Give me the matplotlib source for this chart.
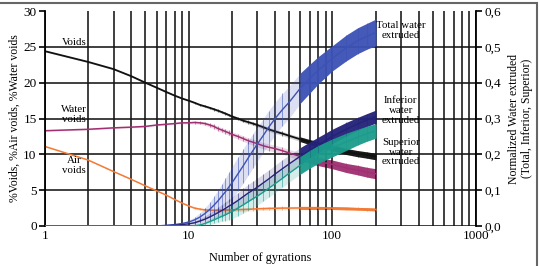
import numpy as np
import matplotlib
matplotlib.use('Agg')
import matplotlib.pyplot as plt
from matplotlib.patches import Rectangle
from matplotlib.ticker import FixedLocator, NullFormatter

plt.rcParams['font.family'] = ['Liberation Serif', 'DejaVu Serif']

gyr = [1, 2, 3, 4, 5, 6, 7, 8, 9, 10, 11, 12, 13, 14, 15, 16, 17, 18, 19, 20,
       22, 24, 26, 28, 30, 33, 36, 40, 45, 50, 60, 70, 80, 100, 125, 150, 175, 200]

# left axis (%)
voids = [24.4, 22.9, 21.9, 20.9, 20.0, 19.3, 18.7, 18.2, 17.8, 17.5, 17.2, 16.9, 16.7, 16.5,
         16.3, 16.1, 15.9, 15.7, 15.5, 15.3, 15.0, 14.7, 14.5, 14.3, 14.1, 13.8, 13.5, 13.2,
         12.9, 12.6, 12.1, 11.7, 11.4, 10.9, 10.4, 10.1, 9.9, 9.7]
voids_sd = [0.1, 0.1, 0.1, 0.1, 0.1, 0.1, 0.1, 0.1, 0.1, 0.12, 0.13, 0.15, 0.16, 0.17,
            0.18, 0.18, 0.19, 0.19, 0.2, 0.2, 0.22, 0.23, 0.24, 0.25, 0.26, 0.27, 0.28, 0.29,
            0.3, 0.3, 0.33, 0.35, 0.37, 0.4, 0.42, 0.43, 0.44, 0.45]
water_voids = [13.3, 13.5, 13.7, 13.8, 13.9, 14.1, 14.2, 14.3, 14.4, 14.4, 14.45, 14.4, 14.3, 14.1,
               13.9, 13.6, 13.4, 13.2, 13.0, 12.8, 12.5, 12.2, 11.9, 11.7, 11.5, 11.2, 11.0, 10.8,
               10.5, 10.2, 9.7, 9.3, 9.0, 8.6, 8.1, 7.8, 7.5, 7.3]
water_sd = [0.1, 0.1, 0.1, 0.1, 0.1, 0.1, 0.1, 0.1, 0.12, 0.15, 0.18, 0.2, 0.25, 0.28,
            0.3, 0.32, 0.33, 0.34, 0.35, 0.35, 0.37, 0.39, 0.4, 0.42, 0.43, 0.45, 0.47, 0.48,
            0.5, 0.5, 0.53, 0.55, 0.57, 0.6, 0.63, 0.66, 0.68, 0.7]
air_voids = [11.1, 9.2, 7.6, 6.5, 5.6, 4.9, 4.3, 3.7, 3.2, 2.8, 2.5, 2.35, 2.25, 2.2,
             2.2, 2.2, 2.2, 2.22, 2.24, 2.25, 2.28, 2.3, 2.33, 2.36, 2.4, 2.42, 2.45, 2.47,
             2.5, 2.5, 2.52, 2.52, 2.52, 2.5, 2.45, 2.4, 2.35, 2.3]
air_sd = [0.05, 0.05, 0.05, 0.05, 0.05, 0.05, 0.05, 0.05, 0.07, 0.1, 0.12, 0.15, 0.2, 0.22,
          0.25, 0.25, 0.25, 0.25, 0.25, 0.25, 0.25, 0.25, 0.25, 0.25, 0.25, 0.25, 0.25, 0.25,
          0.25, 0.25, 0.22, 0.22, 0.22, 0.2, 0.2, 0.2, 0.2, 0.2]

# right axis (normalized water extruded)
total = [0, 0, 0, 0, 0, 0, 0.002, 0.004, 0.007, 0.011, 0.017, 0.025, 0.035, 0.046,
         0.058, 0.07, 0.083, 0.095, 0.108, 0.12, 0.145, 0.168, 0.19, 0.21, 0.228, 0.252, 0.275, 0.3,
         0.325, 0.345, 0.385, 0.412, 0.435, 0.468, 0.497, 0.517, 0.53, 0.54]
total_sd = [0, 0, 0, 0, 0, 0, 0, 0, 0.002, 0.005, 0.008, 0.012, 0.016, 0.02,
            0.025, 0.03, 0.034, 0.038, 0.042, 0.045, 0.047, 0.048, 0.048, 0.048, 0.048, 0.047, 0.047, 0.046,
            0.045, 0.045, 0.042, 0.04, 0.038, 0.035, 0.036, 0.036, 0.036, 0.037]
inferior = [0, 0, 0, 0, 0, 0, 0.001, 0.002, 0.004, 0.006, 0.009, 0.014, 0.019, 0.025,
            0.031, 0.037, 0.043, 0.049, 0.055, 0.06, 0.071, 0.082, 0.092, 0.1, 0.108, 0.12, 0.131, 0.145,
            0.16, 0.173, 0.195, 0.212, 0.226, 0.25, 0.27, 0.285, 0.296, 0.305]
inferior_sd = [0, 0, 0, 0, 0, 0, 0, 0, 0.001, 0.003, 0.005, 0.007, 0.009, 0.011,
               0.013, 0.015, 0.017, 0.018, 0.019, 0.02, 0.022, 0.023, 0.024, 0.025, 0.025, 0.025, 0.025, 0.025,
               0.025, 0.025, 0.024, 0.023, 0.022, 0.02, 0.019, 0.018, 0.018, 0.018]
superior = [0, 0, 0, 0, 0, 0, 0, 0, 0, 0, 0.001, 0.003, 0.007, 0.012,
            0.017, 0.022, 0.027, 0.031, 0.036, 0.04, 0.05, 0.059, 0.068, 0.076, 0.083, 0.094, 0.105, 0.118,
            0.133, 0.147, 0.17, 0.187, 0.2, 0.218, 0.235, 0.248, 0.258, 0.265]
superior_sd = [0, 0, 0, 0, 0, 0, 0, 0, 0, 0, 0.001, 0.003, 0.005, 0.008,
               0.01, 0.012, 0.014, 0.016, 0.018, 0.02, 0.022, 0.023, 0.024, 0.025, 0.025, 0.025, 0.025, 0.025,
               0.025, 0.025, 0.025, 0.025, 0.025, 0.025, 0.024, 0.022, 0.021, 0.02]

x = np.array(gyr)


def draw_series(ax, y, sd, color, lw):
    y = np.array(y)
    sd = np.array(sd)
    ax.fill_between(x, y - sd, y + sd, color=color, alpha=0.18, lw=0)
    ax.fill_between(x, y - sd, y + sd, where=x >= 60, color=color, alpha=0.95, lw=0)
    ax.errorbar(x, y, yerr=sd, fmt='none', ecolor=color, elinewidth=0.7, alpha=0.55)
    ax.plot(x, y, color=color, lw=lw)


fig = plt.figure(figsize=(5.4, 2.66), dpi=100)
ax = fig.add_axes([0.0833, 0.1504, 0.798, 0.808])
ax.set_xscale('log')
ax.set_xlim(1, 1000)
ax.set_ylim(0, 30)
ax.set_yticks([0, 5, 10, 15, 20, 25, 30])
ax.xaxis.set_major_locator(FixedLocator([1, 10, 100, 1000]))
ax.xaxis.set_minor_locator(FixedLocator([m * d for d in (1, 10, 100) for m in range(2, 10)]))
ax.xaxis.set_minor_formatter(NullFormatter())
ax.set_xticklabels(['1', '10', '100', '1000'])
ax.grid(True, which='both', axis='x', color='#151515', lw=1.15)
ax.grid(True, which='major', axis='y', color='#151515', lw=1.15)
ax.get_ygridlines()[-1].set_visible(False)
ax.tick_params(axis='x', which='both', length=0, labelsize=9.5, pad=3)
ax.tick_params(axis='y', length=4, width=1.2, labelsize=9.5, pad=2, color='black')
for s in ['top', 'right', 'bottom']:
    ax.spines[s].set_visible(False)
ax.spines['left'].set_linewidth(1.3)
ax.set_xlabel('Number of gyrations', fontsize=8.8, labelpad=7)
ax.set_ylabel('%Voids, %Air voids, %Water voids', fontsize=8.5, labelpad=2)

draw_series(ax, voids, voids_sd, '#111111', 1.3)
draw_series(ax, water_voids, water_sd, '#a03072', 1.1)
draw_series(ax, air_voids, air_sd, '#f27a35', 1.1)

ax2 = ax.twinx()
ax2.set_ylim(0, 0.6)
ax2.set_yticks([0.0, 0.1, 0.2, 0.3, 0.4, 0.5, 0.6])
ax2.set_yticklabels(['0,0', '0,1', '0,2', '0,3', '0,4', '0,5', '0,6'])
ax2.tick_params(axis='y', length=4, width=1.2, labelsize=9.5, pad=2)
for s in ['top', 'left', 'bottom']:
    ax2.spines[s].set_visible(False)
ax2.spines['right'].set_linewidth(1.3)
ax2.set_ylabel('Normalized Water extruded\n(Total, Inferior, Superior)', fontsize=8.5,
               labelpad=5, linespacing=1.15)

draw_series(ax2, total, total_sd, '#3c52b5', 1.0)
draw_series(ax2, inferior, inferior_sd, '#24237a', 1.0)
draw_series(ax2, superior, superior_sd, '#1b9c8c', 1.0)

tk = dict(fontsize=7.8, ha='center', va='center', linespacing=1.1)
ax.text(1.6, 25.6, 'Voids', **tk)
ax.text(1.6, 15.6, 'Water\nvoids', **tk)
ax.text(1.6, 8.4, 'Air\nvoids', **tk)
ax2.text(300, 0.545, 'Total water\nextruded', **tk)
ax2.text(300, 0.322, 'Inferior\nwater\nextruded', **tk)
ax2.text(300, 0.206, 'Superior\nwater\nextruded', **tk)

fig.patches.append(Rectangle((-0.01, -0.01), 537 / 540 + 0.01, 1.0, transform=fig.transFigure,
                             fill=False, edgecolor='#666666', lw=1.5))

fig.savefig('out.png', dpi=100)
